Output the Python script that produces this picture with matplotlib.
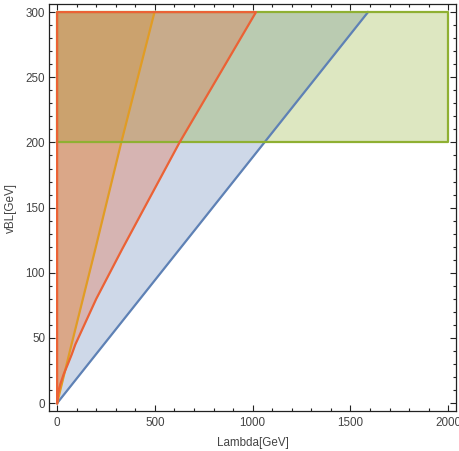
import matplotlib
matplotlib.use("Agg")
import matplotlib.pyplot as plt
from matplotlib.ticker import MultipleLocator

# Data
blue_x = [0, 1590]
blue_y = [0, 300]
orange_x = [0, 67, 195, 328, 498]
orange_y = [0, 41, 118, 200, 300]
red_x = [0, 5, 16, 33, 55, 75, 93, 200, 332, 626, 1017]
red_y = [0, 7, 14.5, 22, 30, 37.5, 45, 80, 118, 200, 300]
green_x = [0, 2000]
green_y = [200, 300]

c_blue = '#5E81B5'
c_orange = '#E19C24'
c_green = '#8FB032'
c_red = '#EB6235'
txt = '#444444'

plt.rcParams['font.family'] = ['Liberation Sans', 'DejaVu Sans']

fig = plt.figure(figsize=(4.59, 4.51), dpi=100)
ax = fig.add_axes([0.1074, 0.0887, 0.8861, 0.9018])

lw = 1.6
ymax = 300
# blue region
ax.fill_betweenx(blue_y, 0, blue_x, color=c_blue, alpha=0.3, lw=0)
ax.plot(blue_x, blue_y, color=c_blue, lw=lw)
# orange region
ax.fill_betweenx(orange_y, 0, orange_x, color=c_orange, alpha=0.3, lw=0)
ax.plot(orange_x, orange_y, color=c_orange, lw=lw)
# green region
ax.fill_between(green_x, green_y[0], green_y[1], color=c_green, alpha=0.3, lw=0)
ax.plot([green_x[0], green_x[1], green_x[1], green_x[0], green_x[0]],
        [green_y[0], green_y[0], green_y[1], green_y[1], green_y[0]],
        color=c_green, lw=lw)
# red region
ax.fill_betweenx(red_y, 0, red_x, color=c_red, alpha=0.3, lw=0)
ax.plot(list(red_x) + [0, 0], list(red_y) + [ymax, 0], color=c_red, lw=lw)

ax.set_xlim(-40, 2040)
ax.set_ylim(-6, 306)
ax.xaxis.set_major_locator(MultipleLocator(500))
ax.xaxis.set_minor_locator(MultipleLocator(100))
ax.yaxis.set_major_locator(MultipleLocator(50))
ax.yaxis.set_minor_locator(MultipleLocator(10))
ax.tick_params(which='both', direction='in', top=True, right=True,
               colors='#222222', labelcolor=txt, labelsize=8.4, width=0.8)
ax.tick_params(which='major', length=4)
ax.tick_params(which='minor', length=2.5)
ax.tick_params(axis='x', pad=4)
ax.tick_params(axis='y', pad=3)
for s in ax.spines.values():
    s.set_color('#222222')
    s.set_linewidth(0.9)

ax.set_xlabel('Lambda[GeV]', color=txt, fontsize=8.4, labelpad=6)
ax.set_ylabel('vBL[GeV]', color=txt, fontsize=8.4, labelpad=6)

fig.savefig('out.png', dpi=100)
